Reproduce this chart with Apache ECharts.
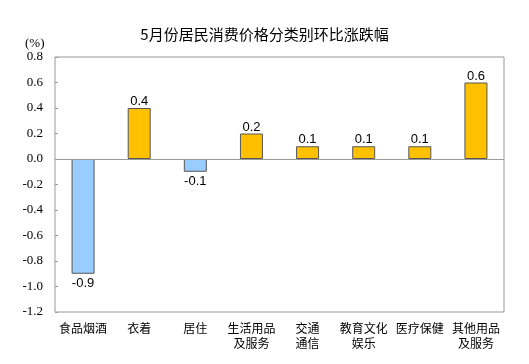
<!DOCTYPE html>
<html><head><meta charset="utf-8">
<script src="https://cdn.jsdelivr.net/npm/echarts@6/dist/echarts.min.js"></script>
<style>html,body{margin:0;padding:0;background:#fff}#c{width:529px;height:364px}</style>
</head><body><div id="c"></div>
<script>
var categories = ['食品烟酒','衣着','居住','生活用品\n及服务','交通\n通信','教育文化\n娱乐','医疗保健','其他用品\n及服务'];
var values = [-0.9, 0.4, -0.1, 0.2, 0.1, 0.1, 0.1, 0.6];
var titleText = '5月份居民消费价格分类别环比涨跌幅';
var unitText = '(%)';

var serif = 'Liberation Serif';
var chart = echarts.init(document.getElementById('c'));
var data = values.map(function(v){
  return {
    value: v,
    itemStyle: {color: v < 0 ? '#99CCFF' : '#FFC000'},
    label: {position: v < 0 ? 'bottom' : 'top', distance: v < 0 ? 3 : 0}
  };
});
chart.setOption({
  animation: false,
  title: {text: titleText, left: 'center', top: 22,
    textStyle: {fontSize: 15, fontWeight: 'normal', color: '#000', fontFamily: 'Noto Sans CJK SC'}},
  graphic: [{type: 'text', left: 25, top: 37, style: {text: unitText, fontSize: 13, fill: '#000', fontFamily: serif}}],
  grid: {left: 55, right: 25, top: 57, bottom: 52, show: true, borderColor: '#999', borderWidth: 1},
  xAxis: {
    type: 'category', data: categories,
    axisLine: {show: false, onZero: false},
    axisTick: {show: false},
    axisLabel: {fontSize: 12, color: '#000', fontFamily: 'Noto Sans CJK SC', lineHeight: 15, margin: 9, interval: 0}
  },
  yAxis: {
    type: 'value', min: -1.2, max: 0.8, interval: 0.2,
    axisLine: {show: false},
    axisTick: {show: true, inside: true, length: 3, lineStyle: {color: '#999'}},
    splitLine: {show: false},
    axisLabel: {fontSize: 13, color: '#000', fontFamily: serif, margin: 12,
      formatter: function(v){ return v.toFixed(1); }}
  },
  series: [{
    type: 'bar', data: data, barWidth: 23,
    itemStyle: {borderColor: '#555', borderWidth: 1},
    label: {show: true, fontSize: 13, color: '#000', fontFamily: 'Liberation Sans',
      formatter: function(p){ return p.value.toFixed(1); }},
    markLine: {silent: true, symbol: 'none', label: {show: false},
      lineStyle: {color: '#999', type: 'solid', width: 1},
      data: [{yAxis: 0}]}
  }]
});
</script></body></html>
